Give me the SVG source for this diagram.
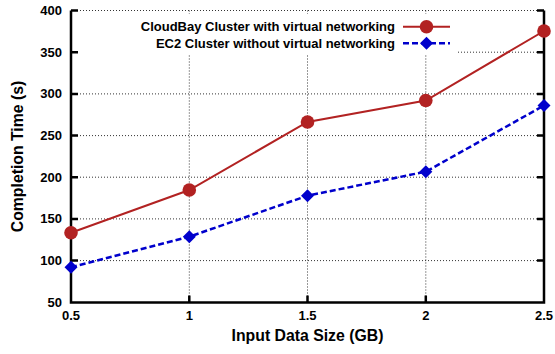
<svg xmlns="http://www.w3.org/2000/svg" width="555" height="354" viewBox="0 0 555 354">
  <style>
    text { font-family: "Liberation Sans", Arial, sans-serif; font-weight: bold; fill: #000; }
    .tick { font-size: 13px; }
    .title { font-size: 15.8px; }
    .legend { font-size: 13px; }
    .grid { stroke: #333; stroke-width: 1; stroke-dasharray: 1 2; fill: none; }
    .axis { stroke: #000; stroke-width: 2.5; fill: none; }
    .red { stroke: #b22222; stroke-width: 2; fill: none; }
    .blue { stroke: #0000cc; stroke-width: 2.5; stroke-dasharray: 6 3; fill: none; }
  </style>
  <defs>
    <circle id="dot" r="6.8" fill="#b22222"/>
    <path id="diamond" d="M0,-6.5 L6.5,0 L0,6.5 L-6.5,0 Z" fill="#0000cc"/>
  </defs>
  <rect width="555" height="354" fill="#fff"/>

  <!-- grid -->
  <g id="grid">
    <path class="grid" d="M71,10.5H544 M71,52.2H544 M71,93.9H544 M71,135.6H544 M71,177.2H544 M71,218.9H544 M71,260.6H544"/>
    <path class="grid" d="M189.3,10.5V302.5 M307.5,10.5V302.5 M425.8,10.5V302.5"/>
  </g>

  <!-- legend background -->
  <rect x="72" y="14" width="385" height="40" fill="#fff"/>

  <!-- frame and ticks -->
  <g id="axes">
    <path class="axis" d="M71,10.5V302.5H544V10.5"/>
    <path class="axis" d="M71,10.5h7 M71,52.2h7 M71,93.9h7 M71,135.6h7 M71,177.2h7 M71,218.9h7 M71,260.6h7"/>
    <path class="axis" d="M544,10.5h-7 M544,52.2h-7 M544,93.9h-7 M544,135.6h-7 M544,177.2h-7 M544,218.9h-7 M544,260.6h-7"/>
    <path class="axis" d="M189.3,302.5v-7 M307.5,302.5v-7 M425.8,302.5v-7"/>
  </g>

  <!-- tick labels -->
  <g id="ylabels" class="tick" text-anchor="end">
    <text class="tick" x="62" y="15">400</text>
    <text class="tick" x="62" y="56.7">350</text>
    <text class="tick" x="62" y="98.4">300</text>
    <text class="tick" x="62" y="140.1">250</text>
    <text class="tick" x="62" y="181.7">200</text>
    <text class="tick" x="62" y="223.4">150</text>
    <text class="tick" x="62" y="265.1">100</text>
    <text class="tick" x="62" y="306.8">50</text>
  </g>
  <g id="xlabels" text-anchor="middle">
    <text class="tick" x="71" y="320">0.5</text>
    <text class="tick" x="189.3" y="320">1</text>
    <text class="tick" x="307.5" y="320">1.5</text>
    <text class="tick" x="425.8" y="320">2</text>
    <text class="tick" x="544" y="320">2.5</text>
  </g>

  <!-- axis titles -->
  <text class="title" x="307.5" y="341" text-anchor="middle">Input Data Size (GB)</text>
  <text class="title" transform="translate(23,156.5) rotate(-90)" text-anchor="middle">Completion Time (s)</text>

  <!-- series -->
  <g id="connectors">
    <polyline class="red" points="71,232.7 189.3,190 307.5,122 425.8,100.5 544,31"/>
    <polyline class="blue" points="71,267.3 189.3,236.7 307.5,195.7 425.8,171.7 544,105.5"/>
  </g>
  <g id="cloudbay">
    <use href="#dot" x="71" y="232.7"/>
    <use href="#dot" x="189.3" y="190"/>
    <use href="#dot" x="307.5" y="122"/>
    <use href="#dot" x="425.8" y="100.5"/>
    <use href="#dot" x="544" y="31"/>
  </g>
  <g id="ec2">
    <use href="#diamond" x="71" y="267.3"/>
    <use href="#diamond" x="189.3" y="236.7"/>
    <use href="#diamond" x="307.5" y="195.7"/>
    <use href="#diamond" x="425.8" y="171.7"/>
    <use href="#diamond" x="544" y="105.5"/>
  </g>

  <!-- legend -->
  <g id="legend">
    <text class="legend" x="395" y="31.3" text-anchor="end">CloudBay Cluster with virtual networking</text>
    <text class="legend" x="395" y="47.9" text-anchor="end">EC2 Cluster without virtual networking</text>
    <line class="red" x1="403" y1="26.7" x2="450" y2="26.7"/>
    <use href="#dot" x="426.5" y="26.7"/>
    <line class="blue" x1="403" y1="43.3" x2="450" y2="43.3"/>
    <use href="#diamond" x="426.5" y="43.3"/>
  </g>
</svg>
